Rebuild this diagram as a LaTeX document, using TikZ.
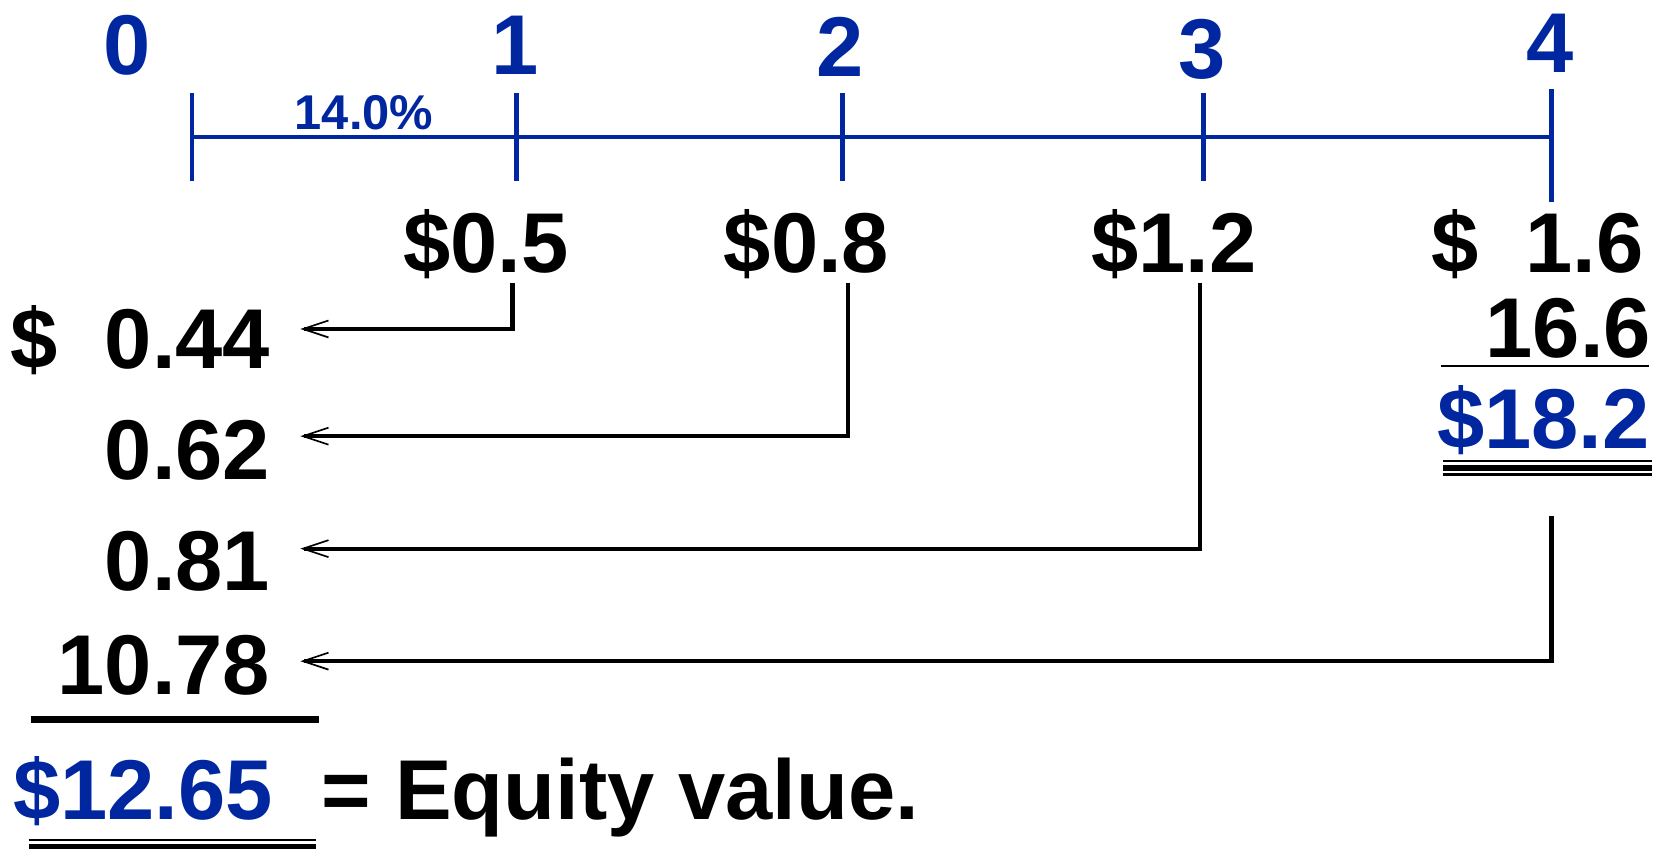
\documentclass[tikz,border=0pt]{standalone}
\usepackage{fontspec}
\setmainfont{Liberation Sans}
\usetikzlibrary{arrows.meta}
\definecolor{tblue}{RGB}{0,38,160}
\begin{document}
\begin{tikzpicture}[x=0.5pt,y=-0.5pt,
  big/.style={inner sep=0pt, font=\fontsize{40pt}{40pt}\selectfont\bfseries},
  yr/.style={big, text=tblue, anchor=base},
  tl/.style={tblue, line width=2.2pt},
  arr/.style={line width=2pt, -{Straight Barb[length=12pt,width=8pt,line width=0.8pt]}},
]
\useasboundingbox (0,0) rectangle (1568,801);
% year labels
\node[yr] (y0) at (120,70) {0};
\node[yr] (y1) at (485,70) {1};
\node[yr] (y2) at (792,72) {2};
\node[yr] (y3) at (1133,74) {3};
\node[yr] (y4) at (1461,68) {4};
% timeline
\draw[tl] (181,129) -- (1462,129);
\draw[tl] (181,88) -- (181,171);
\draw[tl] (487,88) -- (487,171);
\draw[tl] (794,88) -- (794,171);
\draw[tl] (1134,88) -- (1134,171);
\draw[tl] (1462,84) -- (1462,190);
\node[inner sep=0pt, text=tblue, anchor=base, font=\fontsize{23pt}{23pt}\selectfont\bfseries] (rate) at (343,122) {14.0\%};
% cash flows
\node[big, anchor=base] (cf1) at (458,257) {\$0.5};
\node[big, anchor=base] (cf2) at (760,257) {\$0.8};
\node[big, anchor=base] (cf3) at (1106,257) {\$1.2};
\node[big, anchor=base east] (cf4) at (1549,257) {\$\ \ 1.6};
\node[big, anchor=base east] (tv) at (1556,337) {16.6};
\draw[line width=1pt] (1358,345) -- (1554,345);
\node[big, anchor=base east, text=tblue] (tot) at (1555,423) {\$18.2};
\draw[line width=1pt] (1360,434.5) -- (1557,434.5);
\draw[line width=2.6pt] (1360,441) -- (1557,441);
\draw[line width=1.2pt] (1360,447.3) -- (1557,447.3);
% present values
\node[big, anchor=base east] (pv1) at (255,347) {\$\ \ 0.44};
\node[big, anchor=base east] (pv2) at (255,452) {0.62};
\node[big, anchor=base east] (pv3) at (255,556) {0.81};
\node[big, anchor=base east] (pv4) at (255,654) {10.78};
\draw[line width=3.6pt] (29,678) -- (301,678);
\node[big, anchor=base west, text=tblue] (eq) at (12,772) {\$12.65};
\node[big, anchor=base west] (lbl) at (303,772) {= Equity value.};
\draw[line width=1.1pt] (27,791.5) -- (298,791.5);
\draw[line width=2.4pt] (27,797.7) -- (298,797.7);
% connectors
\coordinate (s1) at (483,267);
\coordinate (s2) at (799,267);
\coordinate (s3) at (1131,267);
\coordinate (s4) at (1462,486);
\coordinate (e1) at (283,310);
\coordinate (e2) at (283,411);
\coordinate (e3) at (283,517);
\coordinate (e4) at (283,623);
\draw[arr] (s1) |- (e1);
\draw[arr] (s2) |- (e2);
\draw[arr] (s3) |- (e3);
\draw[arr] (s4) |- (e4);
\end{tikzpicture}
\end{document}
